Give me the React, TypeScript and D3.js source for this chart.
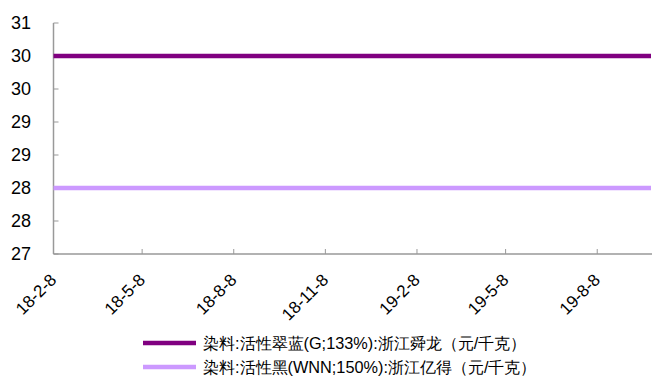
import React from "react";
import * as d3 from "d3";

const dates = ["2018-02-08", "2018-03-08", "2018-04-08", "2018-05-08", "2018-06-08", "2018-07-08", "2018-08-08", "2018-09-08", "2018-10-08", "2018-11-08", "2018-12-08", "2019-01-08", "2019-02-08", "2019-03-08", "2019-04-08", "2019-05-08", "2019-06-08", "2019-07-08", "2019-08-08", "2019-09-08", "2019-10-01"];
const seriesBlue = [30, 30, 30, 30, 30, 30, 30, 30, 30, 30, 30, 30, 30, 30, 30, 30, 30, 30, 30, 30, 30];
const seriesBlack = [28, 28, 28, 28, 28, 28, 28, 28, 28, 28, 28, 28, 28, 28, 28, 28, 28, 28, 28, 28, 28];
const seriesNames = ["染料:活性翠蓝(G;133%):浙江舜龙（元/千克）", "染料:活性黑(WNN;150%):浙江亿得（元/千克）"];
const seriesColors = ["#800080", "#CC99FF"];
const xTickDates = ["2018-02-08", "2018-05-08", "2018-08-08", "2018-11-08", "2019-02-08", "2019-05-08", "2019-08-08"];
const xTickLabels = ["18-2-8", "18-5-8", "18-8-8", "18-11-8", "19-2-8", "19-5-8", "19-8-8"];
const yTicks = [27, 27.5, 28, 28.5, 29, 29.5, 30, 30.5];

export default function App() {
  const W = 652, H = 378;
  const left = 53.5, right = 651, top = 23, bottom = 254;
  const parse = d3.utcParse("%Y-%m-%d");
  const x = d3.scaleUtc().domain([parse("2018-02-08")!, parse("2019-10-01")!]).range([left, right]);
  const y = d3.scaleLinear().domain([27, 30.5]).range([bottom, top]);
  const line = d3.line<[Date, number]>().x(d => x(d[0])).y(d => y(d[1]));
  const pts = (vals: number[]) => dates.map((d, i) => [parse(d)!, vals[i]] as [Date, number]);
  const font = "'Liberation Sans', Arial, sans-serif";
  const axisColor = "#999999";
  return (
    <svg width={W} height={H} style={{ position: "absolute", left: 0, top: 0 }} fontFamily={font}>
      <rect width={W} height={H} fill="#fff" />
      {yTicks.map((t, i) => (
        <g key={i}>
          <line x1={left} x2={left + 5} y1={y(t)} y2={y(t)} stroke={axisColor} strokeWidth={1} />
          <text x={31} y={y(t)} dy="0.35em" textAnchor="end" fontSize={18} fill="#000">{Math.round(t)}</text>
        </g>
      ))}
      {xTickDates.map((d, i) => {
        const xx = x(parse(d)!);
        return (
          <g key={i}>
            <line x1={xx} x2={xx} y1={bottom} y2={bottom - 5} stroke={axisColor} strokeWidth={1} />
            <text transform={`translate(${xx + 4},${bottom + 27}) rotate(-45)`} textAnchor="end" fontSize={17} fill="#000">{xTickLabels[i]}</text>
          </g>
        );
      })}
      <line x1={left} x2={left} y1={top} y2={bottom} stroke={axisColor} strokeWidth={1.5} />
      <line x1={left} x2={W} y1={bottom} y2={bottom} stroke={axisColor} strokeWidth={1.5} />
      <path d={line(pts(seriesBlack))!} fill="none" stroke={seriesColors[1]} strokeWidth={4.5} />
      <path d={line(pts(seriesBlue))!} fill="none" stroke={seriesColors[0]} strokeWidth={4.5} />
      {seriesNames.map((n, i) => (
        <g key={i} transform={`translate(0,${343 + i * 24})`}>
          <line x1={143} x2={196} y1={0} y2={0} stroke={seriesColors[i]} strokeWidth={4.5} />
          <text x={203} y={0} dy="0.36em" fontSize={16.3} fill="#000">{n}</text>
        </g>
      ))}
    </svg>
  );
}
